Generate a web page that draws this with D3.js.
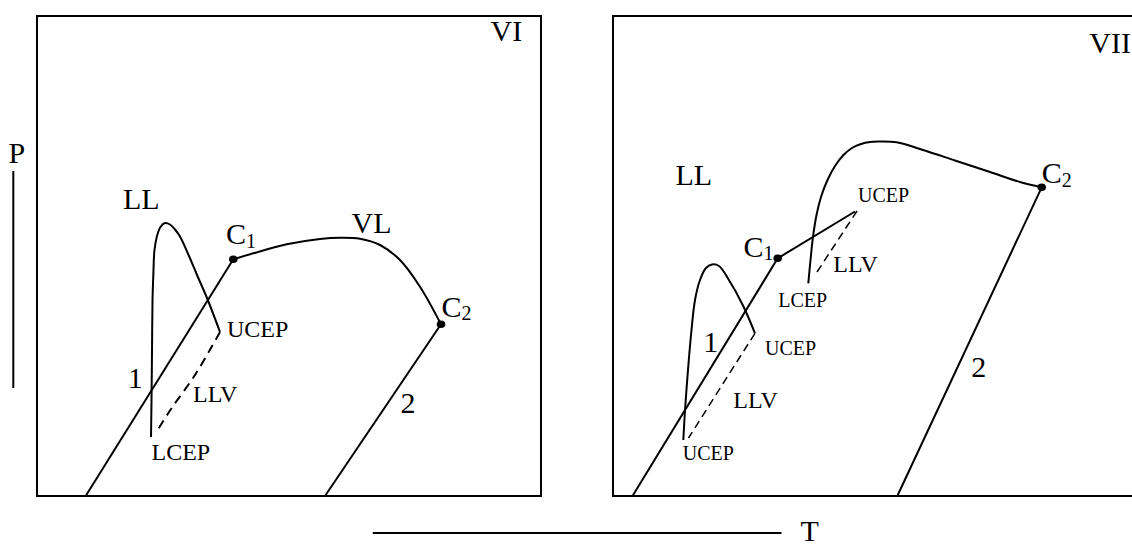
<!DOCTYPE html>
<html>
<head>
<meta charset="utf-8">
<script src="https://cdn.jsdelivr.net/npm/d3@7"></script>
<style>
  html, body { margin: 0; padding: 0; background: #fff; }
  svg text { font-family: "Liberation Serif", "Times New Roman", Times, serif; fill: #000; }
</style>
</head>
<body>
<svg id="chart" width="1132" height="548"></svg>
<script>
// Schematic P–T projections of binary phase behaviour, types VI and VII.
// Coordinates are relative units: T and P both run 0–100 across a panel.

// ---- Type VI ----
const viLine1 = [[9.66, 0], [38.95, 49.31]];                       // vapour pressure curve 1 up to C1
const viVL = [[38.95, 49.31], [42.92, 50.56], [49.54, 52.44], [56.15, 53.54], [60.12, 53.81],
              [64.09, 53.60], [68.06, 52.29], [72.02, 49.17], [75.99, 43.60], [80.16, 35.77]];
const viLine2 = [[80.16, 35.77], [57.14, 0]];                      // vapour pressure curve 2 down from C2
const viLL = [[22.62, 12.29], [22.72, 20.0], [22.82, 30.42], [22.92, 40.83], [23.08, 46.04],
              [23.31, 51.25], [23.81, 54.17], [24.50, 56.04], [25.40, 56.88], [26.39, 56.56],
              [27.38, 55.52], [28.37, 54.06], [30.16, 50.0], [31.75, 46.04], [33.73, 41.25],
              [36.31, 34.17]];
const viLLV = [[36.31, 34.17], [31.35, 25.21], [26.59, 18.13], [23.81, 13.54]];
const viCritical = [[38.95, 49.31], [80.16, 35.77]];

// ---- Type VII ----
const viiLine1 = [[3.87, 0], [32.68, 49.52]];
const viiC1Branch = [[32.68, 49.52], [48.02, 59.27]];
const viiUpperLLV = [[48.42, 59.38], [40.48, 46.67]];
const viiUpper = [[38.75, 44.31], [39.19, 49.17], [39.68, 53.96], [40.38, 58.54], [41.27, 62.29],
                  [42.56, 65.83], [44.05, 68.75], [45.73, 71.04], [47.42, 72.50], [49.21, 73.33],
                  [50.99, 73.75], [52.58, 73.85], [56.29, 73.69], [61.51, 72.08], [67.86, 69.90],
                  [74.80, 67.50], [80.75, 65.42], [85.06, 64.31]];
const viiLine2 = [[85.06, 64.31], [56.41, 0]];
const viiLL = [[13.95, 11.67], [14.29, 17.92], [14.88, 26.25], [15.48, 33.54], [16.27, 40.83],
               [17.26, 45.0], [18.45, 47.5], [19.64, 48.23], [21.03, 47.92], [22.82, 45.31],
               [25.79, 39.69], [28.17, 33.90]];
const viiLLV = [[28.17, 33.90], [14.98, 12.08]];
const viiCritical = [[32.68, 49.52], [85.06, 64.31]];

// ---- Labels: [text, subscript, T, P, size class] ----
const viLabels = [
  ["VI", "", 90.0, 94.85, "big"],
  ["LL", "", 17.06, 59.69, "big"],
  ["C", "1", 37.5, 52.4, "big"],
  ["VL", "", 62.4, 54.73, "big"],
  ["C", "2", 80.26, 37.35, "big"],
  ["UCEP", "", 37.7, 33.19, "mid"],
  ["1", "", 18.0, 22.4, "big"],
  ["LLV", "", 30.95, 19.65, "mid"],
  ["LCEP", "", 22.72, 7.5, "mid"],
  ["2", "", 72.1, 17.38, "big"]
];
const viiLabels = [
  ["VII", "", 94.5, 92.23, "big"],
  ["LL", "", 12.40, 64.83, "big"],
  ["C", "1", 25.9, 49.85, "big"],
  ["UCEP", "", 48.61, 61.31, "small"],
  ["LLV", "", 43.71, 46.73, "mid"],
  ["LCEP", "", 32.80, 39.44, "small"],
  ["1", "", 17.9, 30.06, "big"],
  ["UCEP", "", 30.16, 29.38, "small"],
  ["LLV", "", 23.87, 18.27, "mid"],
  ["UCEP", "", 13.83, 7.5, "small"],
  ["C", "2", 85.06, 65.15, "big"],
  ["2", "", 71.1, 24.79, "big"]
];

const fontSize = { big: 30, mid: 24, small: 20, sub: 20 };

const panels = [
  { range: [37, 541], frameMaxT: 100,
    solid: [viLine1, viVL, viLine2, viLL],
    dashed: [viLLV], dash: "9,6", dashWidth: 2,
    critical: viCritical, labels: viLabels },
  { range: [613, 1117], frameMaxT: 105.6,
    solid: [viiLine1, viiC1Branch, viiUpper, viiLine2, viiLL],
    dashed: [viiUpperLLV, viiLLV], dash: "8,5", dashWidth: 1.5,
    critical: viiCritical, labels: viiLabels }
];

const svg = d3.select("#chart");
const yP = d3.scaleLinear().domain([0, 100]).range([496, 16]);

panels.forEach(panel => {
  const xT = d3.scaleLinear().domain([0, 100]).range(panel.range);
  const g = svg.append("g");

  // frame
  g.append("path")
    .attr("d", `M${xT(0)},${yP(100)}H${xT(panel.frameMaxT)}V${yP(0)}H${xT(0)}Z`)
    .attr("fill", "none").attr("stroke", "#000").attr("stroke-width", 2);

  const line = d3.line().x(d => xT(d[0])).y(d => yP(d[1])).curve(d3.curveCatmullRom.alpha(0.5));

  g.selectAll(".solid").data(panel.solid).join("path")
    .attr("class", "solid")
    .attr("d", line)
    .attr("fill", "none").attr("stroke", "#000").attr("stroke-width", 2)
    .attr("stroke-linejoin", "round");

  g.selectAll(".dashed").data(panel.dashed).join("path")
    .attr("class", "dashed")
    .attr("d", line)
    .attr("fill", "none").attr("stroke", "#000").attr("stroke-width", panel.dashWidth)
    .attr("stroke-dasharray", panel.dash);

  g.selectAll(".crit").data(panel.critical).join("ellipse")
    .attr("class", "crit")
    .attr("cx", d => xT(d[0])).attr("cy", d => yP(d[1]))
    .attr("rx", 4.3).attr("ry", 3.8).attr("fill", "#000");

  const lbl = g.selectAll(".lbl").data(panel.labels).join("text")
    .attr("class", "lbl")
    .attr("x", d => xT(d[2])).attr("y", d => yP(d[3]))
    .attr("font-size", d => fontSize[d[4]]);
  lbl.append("tspan").text(d => d[0]);
  lbl.filter(d => d[1]).append("tspan")
    .attr("font-size", fontSize.sub).attr("dy", 3.5)
    .text(d => d[1]);
});

// axis direction indicators
svg.append("text").attr("x", 8.5).attr("y", 163).attr("font-size", 30).text("P");
svg.append("line").attr("x1", 13.3).attr("x2", 13.3).attr("y1", 171).attr("y2", 388)
  .attr("stroke", "#000").attr("stroke-width", 2);
svg.append("line").attr("x1", 372.7).attr("x2", 781.5).attr("y1", 533).attr("y2", 533)
  .attr("stroke", "#000").attr("stroke-width", 2);
svg.append("text").attr("x", 800.5).attr("y", 541).attr("font-size", 30).text("T");
</script>
</body>
</html>
